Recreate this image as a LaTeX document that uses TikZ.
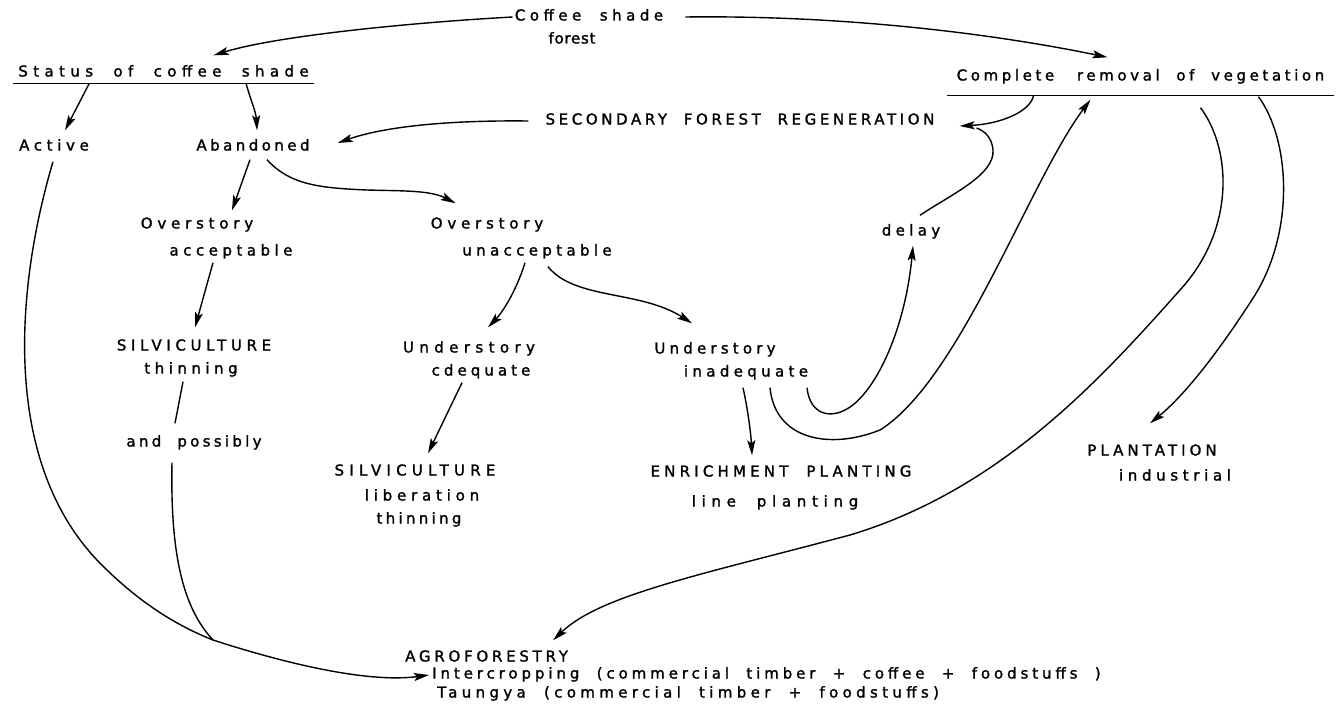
\documentclass[tikz,border=0pt]{standalone}
\usepackage{fontspec}
\newfontfamily\lf[FakeBold=1.5,WordSpace=2]{DejaVu Sans}
\usetikzlibrary{arrows.meta}
\newcommand\LS[2]{{\addfontfeature{LetterSpace=#1}#2}}
\begin{document}
\begin{tikzpicture}[x=1pt,y=-1pt,
  lab/.style={font=\lf\fontsize{15}{18}\selectfont, inner sep=0pt, text height=10pt, text depth=3pt},
  ln/.style={line width=1.4pt},
  arr/.style={line width=1.4pt, -{Stealth[length=15pt,width=8pt,inset=3pt]}},
  ul/.style={lab, append after command={(\tikzlastnode.south west) edge[ln] (\tikzlastnode.south east)}}]
\path[use as bounding box, fill=white] (0,0) rectangle (1336,717);

% labels
\node[lab] (cof1) at (589,17) {\LS{30}{Coffee shade}};
\node[lab] (cof2) at (572,40) {\LS{5}{forest}};
\node[ul, inner xsep=5pt, inner ysep=4pt] (status) at (163.5,73) {\LS{36}{Status of coffee shade}};
\node[ul, inner xsep=10pt, inner ysep=12pt] (compl) at (1140.5,77) {\LS{24}{Complete\hspace*{0.4em} removal of vegetation}};
\node[lab] (sfr) at (740,121) {\LS{24}{SECONDARY FOREST REGENERATION}};
\node[lab] (act) at (54,147) {\LS{31}{Active}};
\node[lab] (aban) at (253,147) {\LS{23}{Abandoned}};
\node[lab] (ovA1) at (197,225) {\LS{32}{Overstory}};
\node[lab] (ovA2) at (231,252) {\LS{30}{acceptable}};
\node[lab] (ovU1) at (487,225) {\LS{32}{Overstory}};
\node[lab] (ovU2) at (537,252) {\LS{29}{unacceptable}};
\node[lab] (delay) at (911,232) {\LS{29}{delay}};
\node[lab] (silA1) at (194,347) {\LS{31}{SILVICULTURE}};
\node[lab] (silA2) at (191,370) {\LS{30}{thinning}};
\node[lab] (poss) at (194,443) {\LS{22}{and possibly}};
\node[lab] (unA1) at (469,349) {\LS{36}{Understory}};
\node[lab] (unA2) at (481,372) {\LS{27}{cdequate}};
\node[lab] (silB1) at (415,472) {\LS{35}{SILVICULTURE}};
\node[lab] (silB2) at (422,497) {\LS{32}{liberation}};
\node[lab] (silB3) at (419,520) {\LS{22}{thinning}};
\node[lab] (unB1) at (715,350) {\LS{28}{Understory}};
\node[lab] (unB2) at (746,373) {\LS{29}{inadequate}};
\node[lab] (enr1) at (781,473) {\LS{28}{ENRICHMENT PLANTING}};
\node[lab] (enr2) at (775,503) {\LS{38}{line planting}};
\node[lab] (pl1) at (1152,452) {\LS{27}{PLANTATION}};
\node[lab] (pl2) at (1175,477) {\LS{31}{industrial}};
\node[lab, anchor=west] (agro) at (405,658) {\LS{25}{AGROFORESTRY}};
\node[lab, anchor=west] (inter) at (432,675) {\LS{26}{Intercropping (commercial timber + coffee + foodstuffs )}};
\node[lab, anchor=west] (taung) at (437,694) {\LS{29}{Taungya (commercial timber + foodstuffs)}};
\coordinate (jn) at (213,640);

% connectors
\draw[arr] ([xshift=-2pt]cof1.west) .. controls (420,22) and (280,35) .. ([xshift=50pt,yshift=7pt]status.north);
\draw[arr] ([xshift=22pt]cof1.east) .. controls (850,15) and (1000,35) .. ([xshift=-33pt,yshift=1pt]compl.north);
\draw[arr] ([xshift=76pt]status.south west) -- ([xshift=11pt,yshift=10pt]act.north);
\draw[arr] ([xshift=233pt]status.south west) .. controls (250,98) and (256,112) .. ([xshift=4pt,yshift=10pt]aban.north);
\draw[arr] ([xshift=-17pt]sfr.west) .. controls (440,120) and (380,128) .. ([xshift=28pt,yshift=4pt]aban.east);
\draw[arr] ([xshift=-107pt]compl.south) .. controls (1030,112) and (1000,124) .. ([xshift=25pt,yshift=-5pt]sfr.east);
\draw[ln] ([xshift=9pt,yshift=10pt]delay.north) .. controls (950,195) and (995,175) .. (993,150) .. controls (992,138) and (985,131) .. ([xshift=42pt,yshift=-7pt]sfr.east);
\draw[arr] ([xshift=-3pt,yshift=-6pt]aban.south) -- ([xshift=35pt,yshift=8pt]ovA1.north);
\draw[arr] ([xshift=14pt,yshift=-6pt]aban.south) .. controls (290,185) and (320,188) .. (367,190) .. controls (400,191) and (430,190) .. ([xshift=25pt,yshift=15pt]ovU1.north west);
\draw[arr] ([xshift=-18pt,yshift=-4pt]ovA2.south) -- ([xshift=1pt,yshift=13pt]silA1.north);
\draw[ln] ([xshift=-8pt,yshift=-5pt]silA2.south) -- ([xshift=-19pt,yshift=13pt]poss.north);
\draw[ln] ([xshift=-22pt,yshift=-13pt]poss.south) .. controls (170,560) and (185,610) .. (jn);
\draw[arr] ([xshift=-1pt,yshift=-8pt]act.south) .. controls (15,290) and (0,470) .. (107,570) .. controls (140,602) and (175,625) .. (jn) .. controls (290,665) and (370,683) .. ([xshift=-3pt]inter.west);
\draw[arr] ([xshift=-12pt,yshift=-4pt]ovU2.south) .. controls (515,295) and (500,315) .. ([xshift=19pt,yshift=15pt]unA1.north);
\draw[arr] ([xshift=11pt,yshift=-8pt]ovU2.south) .. controls (575,300) and (640,290) .. ([xshift=-23pt,yshift=20pt]unB1.north);
\draw[arr] ([xshift=-19pt,yshift=-4pt]unA2.south) -- ([xshift=13pt,yshift=12pt]silB1.north);
\draw[arr] ([xshift=-3pt,yshift=-8pt]unB2.south) .. controls (748,410) and (751,435) .. ([xshift=-29pt,yshift=11pt]enr1.north);
\draw[arr] ([xshift=61pt,yshift=-8pt]unB2.south) .. controls (810,415) and (830,418) .. (845,410) .. controls (875,395) and (905,330) .. ([xshift=2pt,yshift=-7pt]delay.south);
\draw[arr] ([xshift=24pt,yshift=-8pt]unB2.south) .. controls (775,440) and (830,450) .. (880,430) .. controls (960,380) and (1030,180) .. ([xshift=-50pt,yshift=-4pt]compl.south);
\draw[arr] ([xshift=60pt,yshift=-12pt]compl.south) .. controls (1232,150) and (1235,230) .. (1180,290) .. controls (1100,380) and (1000,490) .. (850,535) .. controls (700,575) and (600,595) .. ([xshift=-15pt,yshift=11pt]agro.north east);
\draw[arr] ([xshift=118pt,yshift=-1pt]compl.south) .. controls (1290,140) and (1295,230) .. (1255,295) .. controls (1220,350) and (1185,395) .. ([xshift=-2pt,yshift=22pt]pl1.north);
\end{tikzpicture}
\end{document}
